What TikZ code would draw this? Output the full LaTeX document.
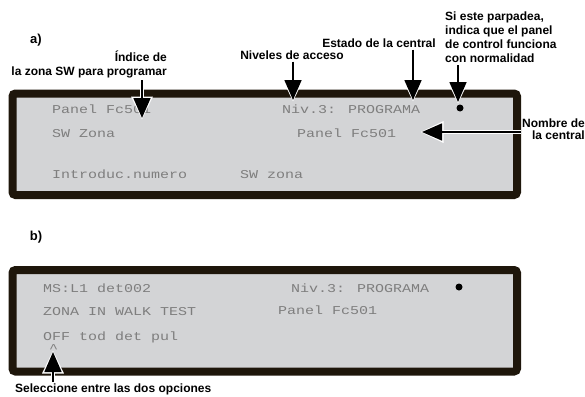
\documentclass[tikz,border=0pt]{standalone}
\usepackage{fontspec}
\setmainfont{Liberation Sans}
\newfontfamily\lcdfont[FakeStretch=1.25]{Liberation Mono}
\usepackage{tikz}
\usetikzlibrary{arrows.meta,positioning}
\definecolor{lcdGray}{HTML}{D3D4D6}
\definecolor{lcdFrame}{HTML}{1E160B}
\definecolor{lcdText}{HTML}{7E7E7E}

\begin{document}
\begin{tikzpicture}[
    x=1pt, y=-1pt,
    font=\fontsize{12}{14}\selectfont\bfseries,
    lcdbox/.style={draw=lcdFrame, fill=lcdGray, line width=8pt, rounded corners=3pt,
                   minimum width=504.5pt, minimum height=101.5pt, inner sep=0pt},
    lcd/.style={anchor=base west, inner sep=0pt, text=lcdText,
                font=\fontsize{12}{12}\selectfont\lcdfont},
    dot/.style={circle, fill=black, inner sep=0pt, minimum size=7pt},
    tag/.style={inner sep=0pt, font=\fontsize{13}{13}\selectfont\bfseries},
    note/.style={inner sep=0pt},
    arrow/.style={-{Triangle[width=17pt, length=20pt]}, line width=1.6pt,
                  preaction={draw=white, line width=3.5pt, shorten >=-1.5pt,
                             -{Triangle[width=21pt, length=23pt]}}}
]
    \useasboundingbox (0,0) rectangle (585,396);

    % Display a
    \node[tag] (tag_a) at (36,40) {a)};
    \node[lcdbox] (panel_a) at (264.75,144.25) {};
    \node[lcd] (a_l1) at (52,113) {Panel Fc501};
    \node[lcd] (a_l2) at (52,137) {SW Zona};
    \node[lcd] (a_l3) at (52,178) {Introduc.numero};
    \node[lcd] (a_r1) at (282,113) {Niv.3: PROGRAMA};
    \node[lcd] (a_r2) at (297,137) {Panel Fc501};
    \node[lcd] (a_r3) at (240,178) {SW zona};
    \node[dot] (dot_a) at (460,108) {};

    % Display b
    \node[tag] (tag_b) at (36,237) {b)};
    \node[lcdbox] (panel_b) at (264.75,320.75) {};
    \node[lcd] (b_l1) at (43,292) {MS:L1 det002};
    \node[lcd] (b_l2) at (43,315) {ZONA IN WALK TEST};
    \node[lcd] (b_l3) at (43,340) {OFF tod det pul};
    \node[lcd] (b_caret) at (49,352) {\^{}};
    \node[lcd] (b_r1) at (291,292) {Niv.3: PROGRAMA};
    \node[lcd] (b_r2) at (278,314) {Panel Fc501};
    \node[dot] (dot_b) at (459,287) {};

    % Labels
    \node[note, align=right, anchor=east] (idx) at (167,64.5) {Índice de\\la zona SW para programar};
    \node[note] (lvl) at (292,55) {Niveles de acceso};
    \node[note] (state) at (379,43) {Estado de la central};
    \node[note, align=left, anchor=north west] (blink) at (445,12) {Si este parpadea,\\indica que el panel\\de control funciona\\con normalidad};
    \node[note, align=right, anchor=east, font=\fontsize{12}{11.5}\selectfont\bfseries] (name) at (585,129) {Nombre de\\la central};
    \node[note, anchor=west] (pick) at (15,389) {Seleccione entre las dos opciones};

    % Arrow tips
    \coordinate (t_idx) at (142,118);
    \coordinate (t_lvl) at (293,100);
    \coordinate (t_state) at (413,100);
    \coordinate (t_blink) at (458,102);
    \coordinate (t_name) at (422,132);
    \coordinate (t_pick) at (53,352);

    % Arrows
    \draw[arrow] ([yshift=-2pt]t_idx |- idx.south) -- (t_idx);
    \draw[arrow] ([yshift=-2pt]t_lvl |- lvl.south) -- (t_lvl);
    \draw[arrow] ([yshift=-2pt]t_state |- state.south) -- (t_state);
    \draw[arrow] ([yshift=-2pt]t_blink |- blink.south) -- (t_blink);
    \draw[arrow] ([xshift=-1pt]name.west |- t_name) -- (t_name);
    \draw[arrow] ([yshift=1pt]t_pick |- pick.north) -- (t_pick);
\end{tikzpicture}
\end{document}
